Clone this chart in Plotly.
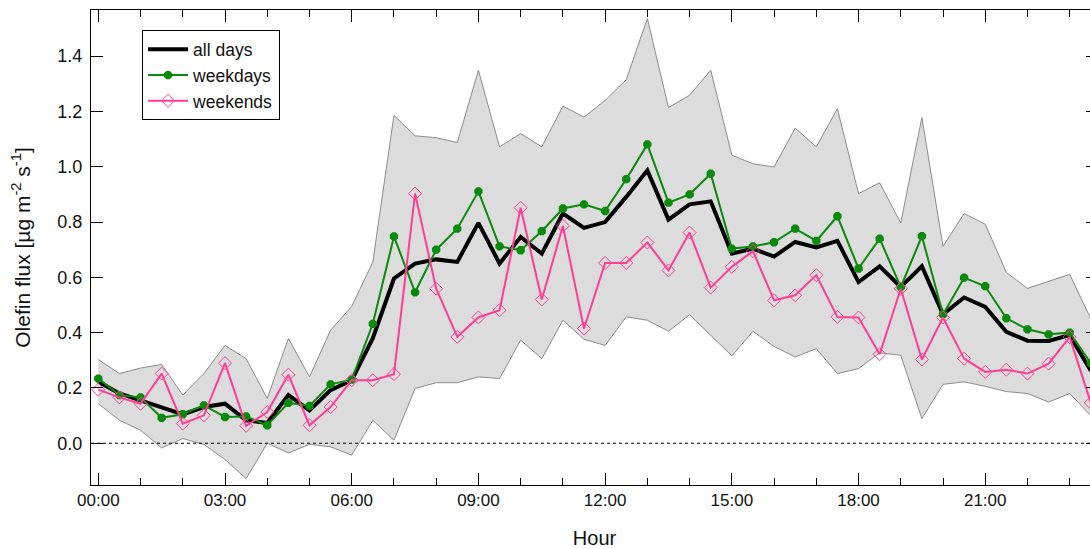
import plotly.graph_objects as go

# Half-hourly time of day (hours)
hours = [0.0, 0.5, 1.0, 1.5, 2.0, 2.5, 3.0, 3.5, 4.0, 4.5, 5.0, 5.5,
         6.0, 6.5, 7.0, 7.5, 8.0, 8.5, 9.0, 9.5, 10.0, 10.5, 11.0, 11.5,
         12.0, 12.5, 13.0, 13.5, 14.0, 14.5, 15.0, 15.5, 16.0, 16.5, 17.0, 17.5,
         18.0, 18.5, 19.0, 19.5, 20.0, 20.5, 21.0, 21.5, 22.0, 22.5, 23.0, 23.5]

band_upper = [0.303, 0.252, 0.272, 0.285, 0.174, 0.252, 0.354, 0.306, 0.162, 0.379, 0.240, 0.409,
              0.495, 0.656, 1.186, 1.112, 1.105, 1.088, 1.349, 1.072, 1.120, 1.072, 1.219, 1.180,
              1.240, 1.315, 1.536, 1.214, 1.259, 1.349, 1.042, 1.011, 0.999, 1.140, 1.072, 1.210,
              0.903, 0.942, 0.797, 1.178, 0.712, 0.831, 0.792, 0.618, 0.560, 0.585, 0.611, 0.450]

band_lower = [0.143, 0.083, 0.047, -0.017, 0.017, -0.004, -0.059, -0.128, 0.000, -0.035, -0.004, -0.013,
              -0.043, 0.083, 0.011, 0.198, 0.219, 0.219, 0.240, 0.234, 0.373, 0.306, 0.445, 0.376,
              0.354, 0.457, 0.445, 0.405, 0.465, 0.390, 0.316, 0.405, 0.350, 0.312, 0.342, 0.252,
              0.270, 0.327, 0.318, 0.089, 0.213, 0.222, 0.206, 0.187, 0.180, 0.149, 0.180, 0.100]

all_days = [0.222, 0.180, 0.155, 0.131, 0.104, 0.131, 0.143, 0.083, 0.073, 0.174, 0.119, 0.192,
            0.228, 0.380, 0.596, 0.650, 0.665, 0.656, 0.797, 0.650, 0.746, 0.686, 0.831, 0.779,
            0.800, 0.891, 0.987, 0.809, 0.864, 0.875, 0.686, 0.704, 0.675, 0.728, 0.708, 0.732,
            0.583, 0.640, 0.565, 0.640, 0.466, 0.527, 0.493, 0.403, 0.371, 0.370, 0.391, 0.262]

weekdays = [0.234, 0.174, 0.166, 0.092, 0.105, 0.137, 0.095, 0.097, 0.065, 0.146, 0.135, 0.213,
            0.230, 0.432, 0.748, 0.546, 0.700, 0.776, 0.911, 0.712, 0.698, 0.767, 0.849, 0.864,
            0.840, 0.955, 1.081, 0.870, 0.900, 0.975, 0.704, 0.712, 0.727, 0.776, 0.732, 0.821,
            0.632, 0.740, 0.565, 0.749, 0.466, 0.599, 0.568, 0.452, 0.412, 0.394, 0.400, 0.290]

weekends = [0.194, 0.166, 0.143, 0.252, 0.071, 0.101, 0.290, 0.063, 0.113, 0.248, 0.065, 0.131,
            0.228, 0.228, 0.250, 0.903, 0.559, 0.385, 0.455, 0.481, 0.852, 0.520, 0.786, 0.415,
            0.652, 0.652, 0.726, 0.625, 0.762, 0.563, 0.638, 0.695, 0.517, 0.535, 0.608, 0.457,
            0.455, 0.322, 0.559, 0.303, 0.455, 0.306, 0.258, 0.266, 0.252, 0.288, 0.384, 0.146]

tick_hours = [0, 3, 6, 9, 12, 15, 18, 21]
tick_labels = ["00:00", "03:00", "06:00", "09:00", "12:00", "15:00", "18:00", "21:00"]
y_ticks = [0.0, 0.2, 0.4, 0.6, 0.8, 1.0, 1.2, 1.4]
y_tick_labels = ["0.0", "0.2", "0.4", "0.6", "0.8", "1.0", "1.2", "1.4"]

FONT = "Liberation Sans, Arial, sans-serif"
GREEN = "#0a8a0a"
PINK = "#ff3d96"

fig = go.Figure()

fig.add_trace(go.Scatter(x=hours, y=band_lower, mode="lines",
                         line=dict(color="#8c8c8c", width=1),
                         showlegend=False, hoverinfo="skip"))
fig.add_trace(go.Scatter(x=hours, y=band_upper, mode="lines",
                         line=dict(color="#8c8c8c", width=1),
                         fill="tonexty", fillcolor="#dcdcdc",
                         showlegend=False, hoverinfo="skip"))

fig.add_trace(go.Scatter(x=hours, y=all_days, mode="lines", name="all days",
                         line=dict(color="black", width=4)))
fig.add_trace(go.Scatter(x=hours, y=weekdays, mode="lines+markers", name="weekdays",
                         line=dict(color=GREEN, width=2),
                         marker=dict(symbol="octagon", size=9, color=GREEN)))
fig.add_trace(go.Scatter(x=hours, y=weekends, mode="lines+markers", name="weekends",
                         line=dict(color=PINK, width=2),
                         marker=dict(symbol="diamond-open", size=10, color=PINK,
                                     line=dict(width=1, color=PINK))))

fig.add_hline(y=0, line=dict(color="black", width=1, dash="dot"), layer="above")

fig.update_layout(
    width=1098, height=549,
    margin=dict(l=91, r=0, t=10, b=64),
    paper_bgcolor="white", plot_bgcolor="white",
    font=dict(family=FONT, color="#111111", size=17),
    showlegend=True,
    legend=dict(x=0.0507, y=0.957, xanchor="left", yanchor="top",
                bgcolor="white", bordercolor="black", borderwidth=1,
                font=dict(family=FONT, size=17.5, color="#111111"),
                traceorder="normal", tracegroupgap=0, itemwidth=40),
    xaxis=dict(range=[-0.173, 23.67], tickmode="array", tickvals=tick_hours, ticktext=tick_labels,
               ticks="inside", ticklen=12, tickwidth=1, tickcolor="black",
               minor=dict(dtick=1, tick0=0, ticks="inside", ticklen=7, tickcolor="black", tickwidth=1),
               showline=True, linecolor="black", linewidth=1, mirror="ticks",
               showgrid=False, zeroline=False, automargin=False,
               tickfont=dict(size=17, family=FONT),
               title=dict(text="Hour", font=dict(size=20, family=FONT), standoff=24)),
    yaxis=dict(range=[-0.151, 1.567], tickmode="array", tickvals=y_ticks, ticktext=y_tick_labels,
               ticks="inside", ticklen=12, tickwidth=1, tickcolor="black",
               showline=True, linecolor="black", linewidth=1, mirror="ticks",
               showgrid=False, zeroline=False, ticklabelstandoff=4, automargin=False,
               tickfont=dict(size=18, family=FONT),
               title=dict(text="Olefin flux [µg m<sup>-2</sup> s<sup>-1</sup>]",
                          font=dict(size=21, family=FONT), standoff=21)),
)

page_style = ("document.documentElement.style.overflow='hidden';"
              "document.body.style.margin='0';"
              "document.body.style.overflow='hidden';")

fig.write_html("out.html", post_script=page_style, config={"displayModeBar": False})
